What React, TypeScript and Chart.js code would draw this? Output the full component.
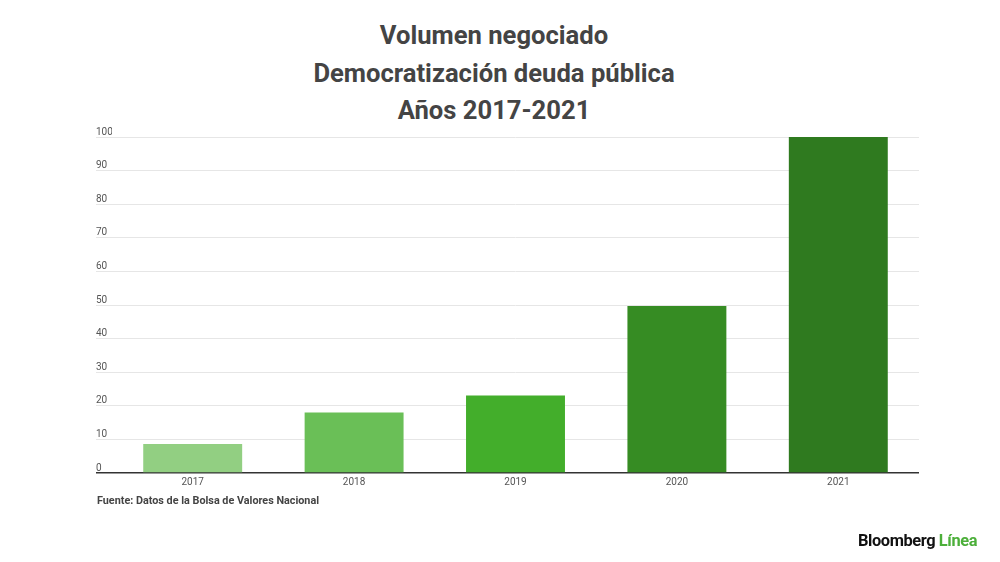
import React, { useRef, useEffect } from "react";
import Chart from "chart.js/auto";

const years = ["2017", "2018", "2019", "2020", "2021"];
const volume = [8.6, 18, 23.1, 49.7, 100];
const barColors = ["#92cf82", "#6abf57", "#43ae2b", "#368c23", "#2f7a1f"];
const titleLines = [
  "Volumen negociado",
  "Democratización deuda pública",
  "Años 2017-2021",
];

const App = () => {
  const chartRef = useRef<HTMLCanvasElement>(null);
  const chartInstanceRef = useRef<Chart | null>(null);

  useEffect(() => {
    if (!chartRef.current) return;
    const ctx = chartRef.current.getContext("2d");
    if (!ctx) return;

    if (chartInstanceRef.current) {
      chartInstanceRef.current.destroy();
    }

    chartInstanceRef.current = new Chart(ctx, {
      type: "bar",
      data: {
        labels: years,
        datasets: [
          {
            label: "Volumen negociado",
            data: volume,
            backgroundColor: barColors,
            barPercentage: 0.613,
            categoryPercentage: 1,
          },
        ],
      },
      options: {
        animation: false,
        responsive: false,
        maintainAspectRatio: false,
        layout: {
          padding: { left: 96, right: 81, top: 137, bottom: 69 },
        },
        plugins: {
          legend: { display: false },
          tooltip: { enabled: false },
          title: { display: false },
        },
        scales: {
          x: {
            grid: { display: false, drawTicks: false },
            border: { display: false },
            ticks: {
              color: "#555",
              padding: 3,
              font: { family: "Roboto", size: 10 },
            },
            afterFit: (scale) => {
              scale.height = 20;
            },
          },
          y: {
            min: 0,
            max: 100,
            border: { display: false },
            grid: {
              color: (c) => (c.tick && c.tick.value === 0 ? "#333" : "#e6e6e6"),
              tickColor: (c) =>
                c.tick && c.tick.value === 0 ? "#333" : "#e6e6e6",
              lineWidth: (c) => (c.tick && c.tick.value === 0 ? 1.5 : 1),
              tickLength: 16,
            },
            ticks: {
              stepSize: 10,
              color: "#555",
              crossAlign: "far",
              labelOffset: -5,
              padding: 0,
              font: { family: "Roboto", size: 10 },
            },
            afterFit: (scale) => {
              scale.width = 16;
            },
          },
        },
      },
    });

    return () => {
      if (chartInstanceRef.current) {
        chartInstanceRef.current.destroy();
        chartInstanceRef.current = null;
      }
    };
  }, []);

  return (
    <div
      style={{
        position: "fixed",
        left: 0,
        top: 0,
        width: 1000,
        height: 562,
        background: "#fff",
        fontFamily: "Roboto, sans-serif",
      }}
    >
      <div
        style={{
          position: "absolute",
          left: 0,
          top: 17,
          width: 988,
          textAlign: "center",
          fontSize: 25.6,
          fontWeight: 700,
          lineHeight: "37.5px",
          color: "#444",
        }}
      >
        {titleLines.map((t) => (
          <div key={t}>{t}</div>
        ))}
      </div>
      <canvas
        ref={chartRef}
        width={1000}
        height={562}
        style={{ position: "absolute", left: 0, top: 0 }}
      />
      <div
        style={{
          position: "absolute",
          left: 97,
          top: 494,
          fontSize: 10.8,
          fontWeight: 700,
          color: "#444",
        }}
      >
        Fuente: Datos de la Bolsa de Valores Nacional
      </div>
      <div
        style={{
          position: "absolute",
          left: 858,
          top: 531,
          fontSize: 16.4,
          fontWeight: 700,
          letterSpacing: -0.4,
          color: "#111",
        }}
      >
        Bloomberg <span style={{ color: "#4caf3a" }}>Línea</span>
      </div>
    </div>
  );
};

export default App;
